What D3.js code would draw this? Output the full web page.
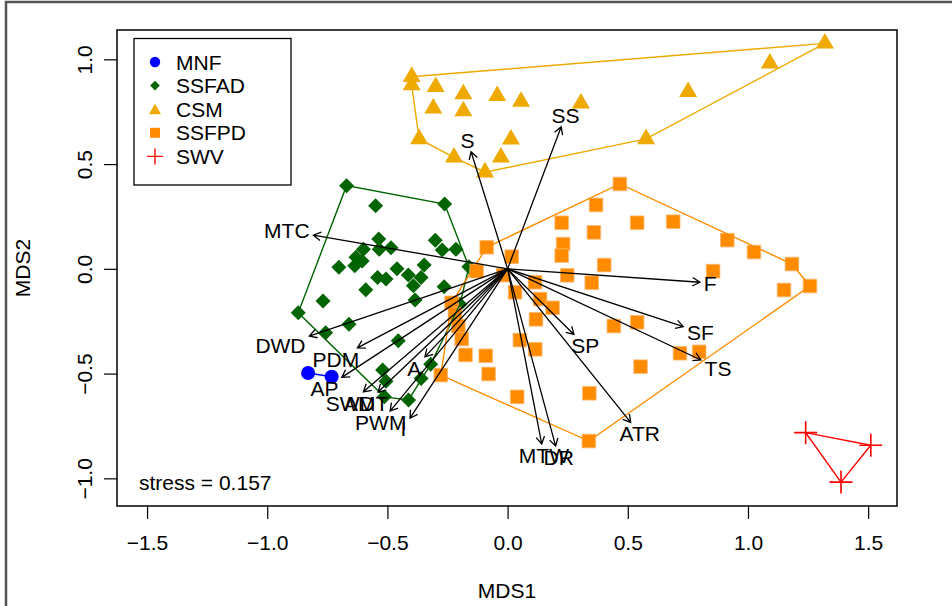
<!DOCTYPE html>
<html><head><meta charset="utf-8">
<script src="https://cdn.jsdelivr.net/npm/d3@7"></script>
<style>
body{margin:0;background:#fff}
svg{display:block;font-family:"Liberation Sans",Arial,Helvetica,sans-serif}
</style>
</head><body>
<svg id="chart" width="952" height="606"></svg>
<script>
// ---------------- data ----------------
const groupNames = ["MNF", "SSFAD", "CSM", "SSFPD", "SWV"];
const groupColors = ["#0000FF", "#006400", "#EEAA00", "#FF8C00", "#FF0000"];

const mnfPoints = [[-0.830, -0.497], [-0.732, -0.515]];

const ssfadPoints = [
  [-0.670, 0.397], [-0.549, 0.301], [-0.262, 0.309], [-0.536, 0.142], [-0.301, 0.137],
  [-0.600, 0.093], [-0.534, 0.093], [-0.485, 0.101], [-0.272, 0.090], [-0.215, 0.093],
  [-0.631, 0.055], [-0.605, 0.037], [-0.636, 0.015], [-0.702, 0.007], [-0.161, 0.010],
  [-0.347, 0.018], [-0.460, 0.000], [-0.541, -0.041], [-0.506, -0.049], [-0.413, -0.030],
  [-0.360, -0.041], [-0.392, -0.081], [-0.590, -0.100], [-0.264, -0.086], [-0.768, -0.154],
  [-0.385, -0.149], [-0.198, -0.169], [-0.871, -0.210], [-0.660, -0.265], [-0.757, -0.305],
  [-0.455, -0.343], [-0.320, -0.456], [-0.520, -0.483], [-0.360, -0.523], [-0.506, -0.536],
  [-0.513, -0.611], [-0.412, -0.626]
];

const csmPoints = [
  [1.320, 1.076], [1.091, 0.981], [-0.399, 0.917], [-0.399, 0.877], [-0.299, 0.869],
  [-0.184, 0.834], [-0.043, 0.826], [0.056, 0.798], [0.305, 0.790], [0.751, 0.845],
  [-0.309, 0.766], [-0.184, 0.753], [-0.368, 0.620], [0.014, 0.618], [0.576, 0.620],
  [-0.223, 0.532], [-0.028, 0.532], [-0.094, 0.461]
];

const ssfpdPoints = [
  [0.467, 0.405], [0.368, 0.305], [0.225, 0.220], [0.539, 0.220], [0.689, 0.225],
  [0.359, 0.174], [0.914, 0.137], [0.231, 0.118], [1.025, 0.080], [-0.087, 0.103],
  [0.017, 0.058], [0.225, 0.063], [0.402, 0.018], [1.183, 0.023], [0.855, -0.011],
  [-0.129, -0.011], [-0.018, -0.030], [0.248, -0.031], [1.150, -0.101], [1.258, -0.082],
  [0.350, -0.066], [0.114, -0.064], [0.031, -0.112], [0.135, -0.144], [0.187, -0.186],
  [-0.233, -0.162], [-0.219, -0.216], [0.118, -0.241], [0.442, -0.273], [0.539, -0.255],
  [-0.205, -0.273], [-0.191, -0.335], [0.051, -0.340], [0.115, -0.384], [0.717, -0.403],
  [0.797, -0.396], [-0.175, -0.411], [-0.091, -0.415], [-0.079, -0.502], [-0.278, -0.507],
  [0.553, -0.467], [0.340, -0.594], [0.040, -0.611], [0.338, -0.822]
];

const swvPoints = [[1.240, -0.782], [1.511, -0.842], [1.387, -1.018]];

// environmental fit vectors (arrow tips)
const vectorNames = ["S", "SS", "MTC", "F", "SF", "TS", "SP", "ATR", "MTW", "DR",
                     "DWD", "PDM", "AP", "A", "SWD", "AMT", "PWM", "I"];
const vectorX = [-0.152, 0.223, -0.808, 0.800, 0.731, 0.804, 0.276, 0.512, 0.142, 0.200,
                 -0.825, -0.625, -0.690, -0.344, -0.600, -0.539, -0.489, -0.406];
const vectorY = [0.559, 0.678, 0.161, -0.064, -0.276, -0.435, -0.313, -0.733, -0.836, -0.846,
                 -0.321, -0.377, -0.518, -0.420, -0.587, -0.588, -0.679, -0.713];

const xTicks = [-1.5, -1.0, -0.5, 0.0, 0.5, 1.0, 1.5];
const yTicks = [-1.0, -0.5, 0.0, 0.5, 1.0];
const stressValue = 0.157;

// ---------------- drawing ----------------
const svg = d3.select("#chart");
const FS = 21;
const box = {l: 117, t: 30, r: 897, b: 506};
const x = d3.scaleLinear().domain([-1.625, 1.620]).range([box.l, box.r]);
const y = d3.scaleLinear().domain([-1.132, 1.140]).range([box.b, box.t]);
const fmt = d => (d < 0 ? "\u2212" : "") + Math.abs(d).toFixed(1);

// outer frame (partial, as in the screenshot)
svg.append("path").attr("d", "M6,606 V2 H952").attr("fill", "none")
  .attr("stroke", "#555").attr("stroke-width", 2.5);

// axes
const gx = svg.append("g").attr("transform", `translate(0,${box.b})`)
  .call(d3.axisBottom(x).tickValues(xTicks).tickSize(13).tickFormat(fmt));
gx.select(".domain").remove();
gx.selectAll("line").attr("stroke", "#000").attr("stroke-width", 1.2);
gx.selectAll("text").attr("font-size", FS).attr("fill", "#000")
  .attr("y", 36).attr("dy", "0.36em").attr("font-family", null);

const gy = svg.append("g").attr("transform", `translate(${box.l},0)`)
  .call(d3.axisLeft(y).tickValues(yTicks).tickSize(13).tickFormat(fmt));
gy.select(".domain").remove();
gy.selectAll("line").attr("stroke", "#000").attr("stroke-width", 1.2);
gy.selectAll("text").attr("font-size", FS).attr("fill", "#000")
  .attr("x", null).attr("dy", null).attr("text-anchor", "middle")
  .attr("transform", "translate(-33,0) rotate(-90)").attr("dy", "0.36em").attr("font-family", null);

svg.append("text").attr("x", (box.l + box.r) / 2).attr("y", 590).attr("dy", "0.36em")
  .attr("text-anchor", "middle").attr("font-size", FS).text("MDS1");
svg.append("text").attr("transform", `translate(22,${(box.t + box.b) / 2}) rotate(-90)`)
  .attr("dy", "0.36em").attr("text-anchor", "middle").attr("font-size", FS).text("MDS2");

// clip for plot area
svg.append("clipPath").attr("id", "clip").append("rect")
  .attr("x", box.l).attr("y", box.t).attr("width", box.r - box.l).attr("height", box.b - box.t);
const plot = svg.append("g").attr("clip-path", "url(#clip)");

// symbol generators
function symbolPath(shape, s) {
  switch (shape) {
    case "circle": return `M${-s},0A${s},${s} 0 1,0 ${s},0A${s},${s} 0 1,0 ${-s},0Z`;
    case "diamond": return `M0,${-s}L${s},0L0,${s}L${-s},0Z`;
    case "square": return `M${-s},${-s}H${s}V${s}H${-s}Z`;
    case "triangle": { const r = s; const xc = r * Math.sqrt(3) / 2;
      return `M0,${-r}L${xc},${r / 2}L${-xc},${r / 2}Z`; }
    case "plus": return `M${-s},0H${s}M0,${-s}V${s}`;
  }
}
const shapes = ["circle", "diamond", "triangle", "square", "plus"];
const sizes = [7, 7.5, 10.4, 6.8, 11.5];
const legendSizes = [5.2, 4.8, 7, 5, 8];
const allPoints = [mnfPoints, ssfadPoints, csmPoints, ssfpdPoints, swvPoints];

function drawPoints(gi) {
  const col = groupColors[gi];
  const g = plot.append("g");
  g.selectAll("path").data(allPoints[gi]).join("path")
    .attr("transform", d => `translate(${x(d[0])},${y(d[1])})`)
    .attr("d", symbolPath(shapes[gi], sizes[gi]))
    .attr("fill", shapes[gi] === "plus" ? "none" : col)
    .attr("stroke", shapes[gi] === "plus" ? col : (gi === 3 ? "#FFB870" : "none"))
    .attr("stroke-width", shapes[gi] === "plus" ? 1.6 : 0.8);
}
function drawHull(gi) {
  const pts = allPoints[gi].map(d => [x(d[0]), y(d[1])]);
  let poly = pts.length >= 3 ? d3.polygonHull(pts) : pts;
  plot.append("path").attr("d", "M" + poly.map(p => p.join(",")).join("L") + "Z")
    .attr("fill", "none").attr("stroke", groupColors[gi]).attr("stroke-width", 1.4);
}
[1, 3, 2, 0, 4].forEach(drawPoints);
[0, 1, 2, 3, 4].forEach(drawHull);

// vectors
const ox = x(0), oy = y(0);
const ag = plot.append("g").attr("stroke", "#000").attr("stroke-width", 1.3).attr("fill", "none");
const HL = 8.5, HA = Math.PI / 6;
vectorNames.forEach((name, i) => {
  const tx = x(vectorX[i]), ty = y(vectorY[i]);
  const ang = Math.atan2(ty - oy, tx - ox);
  const h1 = [tx - HL * Math.cos(ang - HA), ty - HL * Math.sin(ang - HA)];
  const h2 = [tx - HL * Math.cos(ang + HA), ty - HL * Math.sin(ang + HA)];
  ag.append("path").attr("d", `M${ox},${oy}L${tx},${ty}M${h1}L${tx},${ty}L${h2}`);
});
const lg = svg.append("g").attr("font-size", FS).attr("text-anchor", "middle");
vectorNames.forEach((name, i) => {
  const tx = x(vectorX[i]), ty = y(vectorY[i]);
  const t = lg.append("text").attr("dy", "0.36em").text(name);
  const w = t.node().getComputedTextLength(), h = 0.716 * FS;
  const vx = tx - ox, vy = ty - oy;
  let offx = Math.sign(vx) * (w / 2 + h / 4), offy = 0.75 * h * Math.sign(vy);
  const b = vy / vx;
  const move = offy / b;
  if (isFinite(move) && Math.abs(move) <= Math.abs(offx)) offx = move; else offy = b * offx;
  t.attr("x", tx + offx).attr("y", ty + offy);
});

// plot box
svg.append("rect").attr("x", box.l).attr("y", box.t).attr("width", box.r - box.l)
  .attr("height", box.b - box.t).attr("fill", "none").attr("stroke", "#000").attr("stroke-width", 1.5);

// stress
svg.append("text").attr("x", 139).attr("y", 482).attr("dy", "0.36em").attr("font-size", FS)
  .text("stress = " + stressValue.toFixed(3));

// legend
const leg = svg.append("g");
leg.append("rect").attr("x", 134).attr("y", 38.5).attr("width", 157).attr("height", 146.5)
  .attr("fill", "#fff").attr("stroke", "#000").attr("stroke-width", 1.3);
groupNames.forEach((n, i) => {
  const yy = 62 + i * 23.6;
  leg.append("path").attr("transform", `translate(155,${yy + (shapes[i] === "triangle" ? 1.5 : 0)})`)
    .attr("d", symbolPath(shapes[i], legendSizes[i]))
    .attr("fill", shapes[i] === "plus" ? "none" : groupColors[i])
    .attr("stroke", shapes[i] === "plus" ? groupColors[i] : "none").attr("stroke-width", 1.4);
  leg.append("text").attr("x", 176).attr("y", yy).attr("dy", "0.36em").attr("font-size", FS).text(n);
});
</script>
</body></html>
